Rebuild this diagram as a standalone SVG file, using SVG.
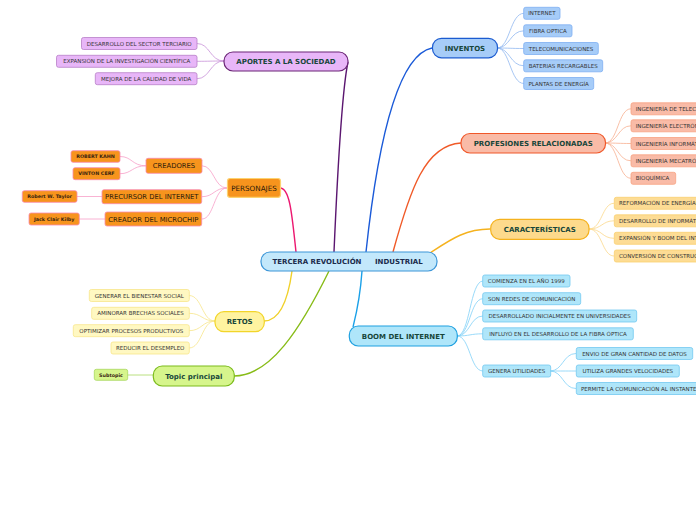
<svg xmlns="http://www.w3.org/2000/svg" width="696" height="520" viewBox="0 0 696 520">
<style>
text{font-family:"DejaVu Sans",Verdana,sans-serif}
.s{font-size:5.5px;fill:#333}
.sm{font-size:5.5px;fill:#333;text-anchor:middle}
.m{font-size:7px;font-weight:bold;fill:#17463a;text-anchor:middle}
.mid{font-size:6.8px;fill:#2a1a0a;text-anchor:middle}
.nm{font-size:4.8px;font-weight:bold;fill:#3a2410;text-anchor:middle}
.c path{fill:none}
.apM{fill:#e8b6f8;stroke:#6b2577;stroke-width:1.2}
.apC{fill:#e8b6f8;stroke:#b77fc8;stroke-width:0.8}
.inM{fill:#a6ccf8;stroke:#1b5bd0;stroke-width:1.2}
.inC{fill:#a6ccf8;stroke:#7eaef2;stroke-width:0.8}
.prM{fill:#f9bba7;stroke:#f0582a;stroke-width:1.2}
.prC{fill:#f9bba7;stroke:#f8a282;stroke-width:0.8}
.caM{fill:#fdda8c;stroke:#f5b21e;stroke-width:1.2}
.caC{fill:#fddc94;stroke:#fad070;stroke-width:0.8}
.peM{fill:#f7941d;stroke:#fcd270;stroke-width:1.2}
.peC{fill:#f7941d;stroke:#f98ab0;stroke-width:0.8}
.reM{fill:#fff3a0;stroke:#f2d52a;stroke-width:1.2}
.reC{fill:#fff8c2;stroke:#f8e68a;stroke-width:0.8}
.toM{fill:#d6f58c;stroke:#7cbc1c;stroke-width:1.2}
.toC{fill:#d6f58c;stroke:#a8d860;stroke-width:0.8}
.boM{fill:#afe6fa;stroke:#1ea0e0;stroke-width:1.2}
.boC{fill:#afe6fa;stroke:#72c8f0;stroke-width:0.8}
</style>

<g id="connectors" class="c">
  <path d="M334,252 C338,160 342,90 348,62" stroke="#5b1670" stroke-width="1.4"/>
  <path d="M366,252 C378,140 398,55 432,48" stroke="#1a5ad8" stroke-width="1.4"/>
  <path d="M393,252 C410,190 425,145 461,143" stroke="#f05a28" stroke-width="1.4"/>
  <path d="M430,253 C450,240 465,229 490,229" stroke="#f5b21e" stroke-width="1.4"/>
  <path d="M296,252 C292,215 290,188 280,188" stroke="#ec1870" stroke-width="1.4"/>
  <path d="M292,271 C288,300 280,321 264,321" stroke="#f0d028" stroke-width="1.4"/>
  <path d="M329,271 C300,330 270,376 234,376" stroke="#88bc18" stroke-width="1.4"/>
  <path d="M362,271 C360,300 356,315 353,327" stroke="#1aa0e8" stroke-width="1.4"/>

  <g stroke="#c890d8" stroke-width="0.8">
    <path d="M224,61 C210,61 210,43.5 197,43.5"/>
    <path d="M224,61 C210,61 210,61.3 197,61.3"/>
    <path d="M224,61 C210,61 210,78.7 197,78.7"/>
  </g>
  <g stroke="#90b8f0" stroke-width="0.8">
    <path d="M497,48 C510,48 510,13.3 524,13.3"/>
    <path d="M497,48 C510,48 510,30.8 524,30.8"/>
    <path d="M497,48 C510,48 510,48.5 524,48.5"/>
    <path d="M497,48 C510,48 510,65.8 524,65.8"/>
    <path d="M497,48 C510,48 510,83.5 524,83.5"/>
  </g>
  <g stroke="#f8b090" stroke-width="0.8">
    <path d="M605,143 C618,143 618,108.8 631,108.8"/>
    <path d="M605,143 C618,143 618,125.8 631,125.8"/>
    <path d="M605,143 C618,143 618,143.5 631,143.5"/>
    <path d="M605,143 C618,143 618,160.8 631,160.8"/>
    <path d="M605,143 C618,143 618,178.3 631,178.3"/>
  </g>
  <g stroke="#fbd88a" stroke-width="0.8">
    <path d="M589,229 C602,229 602,203.3 614,203.3"/>
    <path d="M589,229 C602,229 602,220.8 614,220.8"/>
    <path d="M589,229 C602,229 602,238.3 614,238.3"/>
    <path d="M589,229 C602,229 602,256 614,256"/>
  </g>
  <g stroke="#f8a0c8" stroke-width="0.8">
    <path d="M227,188 C214,188 214,165.8 202,165.8"/>
    <path d="M227,188 C214,188 214,196.7 202,196.7"/>
    <path d="M227,188 C214,188 214,219 202,219"/>
    <path d="M146,165.8 C132,165.8 132,156.5 120,156.5"/>
    <path d="M146,165.8 C132,165.8 132,173.7 120,173.7"/>
    <path d="M102,196.5 L77,196.5"/>
    <path d="M105,219 L79,219"/>
  </g>
  <g stroke="#f8e68a" stroke-width="0.8">
    <path d="M215,321 C202,321 202,295.5 189,295.5"/>
    <path d="M215,321 C202,321 202,313.3 189,313.3"/>
    <path d="M215,321 C202,321 202,330.7 189,330.7"/>
    <path d="M215,321 C202,321 202,348 189,348"/>
  </g>
  <g stroke="#a8d860" stroke-width="0.8">
    <path d="M153,375 L127,375"/>
  </g>
  <g stroke="#80d0f8" stroke-width="0.8">
    <path d="M457,336 C470,336 470,281 483,281"/>
    <path d="M457,336 C470,336 470,298.7 483,298.7"/>
    <path d="M457,336 C470,336 470,316 483,316"/>
    <path d="M457,336 C470,336 470,333.8 483,333.8"/>
    <path d="M457,336 C470,336 470,371 483,371"/>
    <path d="M550,371 C563,371 563,353.5 576,353.5"/>
    <path d="M550,371 C563,371 563,371 576,371"/>
    <path d="M550,371 C563,371 563,388.5 576,388.5"/>
  </g>
</g>

<g id="center">
  <rect x="261" y="252" width="176" height="19" rx="9" fill="#c3e8fb" stroke="#3c96d8" stroke-width="1.2"/>
  <text style="font-size:7px;font-weight:bold;fill:#1b2b4b" y="264"><tspan x="272.5">TERCERA REVOLUCIÓN</tspan><tspan x="375">INDUSTRIAL</tspan></text>
</g>

<g id="aportes">
  <rect class="apM" x="224" y="52" width="124" height="19" rx="9"/>
  <text class="m" x="286" y="64">APORTES A LA SOCIEDAD</text>
</g>
<g id="aportes-1"><rect class="apC" x="81.5" y="37.5" width="115.5" height="12" rx="2"/><text class="sm" x="139.2" y="45.5">DESARROLLO DEL SECTOR TERCIARIO</text></g>
<g id="aportes-2"><rect class="apC" x="56.5" y="55.3" width="140.5" height="12" rx="2"/><text class="sm" x="126.8" y="63.3">EXPANSIÓN DE LA INVESTIGACIÓN CIENTÍFICA</text></g>
<g id="aportes-3"><rect class="apC" x="95.3" y="72.7" width="101.7" height="12" rx="2"/><text class="sm" x="146.2" y="80.7">MEJORA DE LA CALIDAD DE VIDA</text></g>

<g id="inventos">
  <rect class="inM" x="432.5" y="38.3" width="65" height="19.5" rx="9"/>
  <text class="m" x="465" y="50.5">INVENTOS</text>
</g>
<g id="inv-1"><rect class="inC" x="523.7" y="7.3" width="36.3" height="12" rx="2"/><text class="sm" x="541.9" y="15.3">INTERNET</text></g>
<g id="inv-2"><rect class="inC" x="523.7" y="24.8" width="48.3" height="12" rx="2"/><text class="sm" x="547.9" y="32.8">FIBRA OPTICA</text></g>
<g id="inv-3"><rect class="inC" x="523.7" y="42.5" width="74.6" height="12" rx="2"/><text class="sm" x="561" y="50.5">TELECOMUNICACIONES</text></g>
<g id="inv-4"><rect class="inC" x="523.7" y="59.8" width="79" height="12" rx="2"/><text class="sm" x="563.2" y="67.8">BATERIAS RECARGABLES</text></g>
<g id="inv-5"><rect class="inC" x="523.7" y="77.5" width="70" height="12" rx="2"/><text class="sm" x="558.7" y="85.5">PLANTAS DE ENERGÍA</text></g>

<g id="profesiones">
  <rect class="prM" x="461" y="133.5" width="144.5" height="19.5" rx="9"/>
  <text class="m" x="533.2" y="145.7">PROFESIONES RELACIONADAS</text>
</g>
<g id="pro-1"><rect class="prC" x="631" y="102.8" width="120" height="12" rx="2"/><text class="s" x="635.7" y="110.8">INGENIERÍA DE TELECOMUNICACIONES</text></g>
<g id="pro-2"><rect class="prC" x="631" y="119.8" width="90" height="12" rx="2"/><text class="s" x="635.7" y="127.8">INGENIERÍA ELECTRÓNICA</text></g>
<g id="pro-3"><rect class="prC" x="631" y="137.5" width="90" height="12" rx="2"/><text class="s" x="635.7" y="145.5">INGENIERÍA INFORMÁTICA</text></g>
<g id="pro-4"><rect class="prC" x="631" y="154.8" width="90" height="12" rx="2"/><text class="s" x="635.7" y="162.8">INGENIERÍA MECATRÓNICA</text></g>
<g id="pro-5"><rect class="prC" x="631" y="172.3" width="44.7" height="12" rx="2"/><text class="s" x="635.7" y="180.3">BIOQUÍMICA</text></g>

<g id="caracteristicas">
  <rect class="caM" x="490.7" y="219.3" width="98.3" height="20" rx="9"/>
  <text class="m" x="539.8" y="231.8">CARACTERÍSTICAS</text>
</g>
<g id="car-1"><rect class="caC" x="614.3" y="197.3" width="100" height="12" rx="2"/><text class="s" x="619" y="205.3">REFORMACIÓN DE ENERGÍAS</text></g>
<g id="car-2"><rect class="caC" x="614.3" y="214.8" width="100" height="12" rx="2"/><text class="s" x="619" y="222.8">DESARROLLO DE INFORMÁTICA</text></g>
<g id="car-3"><rect class="caC" x="614.3" y="232.3" width="110" height="12" rx="2"/><text class="s" x="619" y="240.3">EXPANSIÓN Y BOOM DEL INTERNET</text></g>
<g id="car-4"><rect class="caC" x="614.3" y="250" width="110" height="12" rx="2"/><text class="s" x="619" y="258">CONVERSIÓN DE CONSTRUCCIÓN</text></g>

<g id="personajes">
  <rect class="peM" x="227.5" y="178.5" width="53" height="18.8" rx="2.5"/>
  <text style="font-size:7.2px;fill:#2a1a0a;text-anchor:middle" x="254" y="190.5">PERSONAJES</text>
</g>
<g id="creadores"><rect class="peC" x="146" y="158.3" width="56" height="15" rx="2"/><text class="mid" x="174" y="168.3">CREADORES</text></g>
<g id="kahn"><rect class="peC" x="71" y="150.7" width="49" height="11.6" rx="2"/><text class="nm" x="95.5" y="158.2">ROBERT KAHN</text></g>
<g id="cerf"><rect class="peC" x="73" y="167.7" width="47" height="12" rx="2"/><text class="nm" x="96.5" y="175.4">VINTON CERF</text></g>
<g id="precursor"><rect class="peC" x="102" y="189.7" width="99.7" height="14" rx="2"/><text class="mid" x="151.8" y="199.2">PRECURSOR DEL INTERNET</text></g>
<g id="taylor"><rect class="peC" x="22.3" y="190.7" width="54.7" height="11.6" rx="2"/><text class="nm" x="49.6" y="198.2">Robert W. Taylor</text></g>
<g id="microchip"><rect class="peC" x="105" y="212" width="96.7" height="14" rx="2"/><text class="mid" x="153.3" y="221.5">CREADOR DEL MICROCHIP</text></g>
<g id="kilby"><rect class="peC" x="29" y="213" width="50.3" height="12" rx="2"/><text class="nm" x="54.2" y="220.7">Jack Clair Kilby</text></g>

<g id="retos">
  <rect class="reM" x="215" y="311.7" width="49.3" height="20" rx="9"/>
  <text class="m" x="239.7" y="324.2">RETOS</text>
</g>
<g id="ret-1"><rect class="reC" x="89.3" y="289.5" width="100" height="12" rx="2"/><text class="sm" x="139.3" y="297.5">GENERAR EL BIENESTAR SOCIAL</text></g>
<g id="ret-2"><rect class="reC" x="91.7" y="307.3" width="97.6" height="12" rx="2"/><text class="sm" x="140.5" y="315.3">AMINORAR BRECHAS SOCIALES</text></g>
<g id="ret-3"><rect class="reC" x="73.3" y="324.7" width="116" height="12" rx="2"/><text class="sm" x="131.3" y="332.7">OPTIMIZAR PROCESOS PRODUCTIVOS</text></g>
<g id="ret-4"><rect class="reC" x="111" y="342" width="78.3" height="12" rx="2"/><text class="sm" x="150.2" y="350">REDUCIR EL DESEMPLEO</text></g>

<g id="topic">
  <rect class="toM" x="153.3" y="366" width="81" height="20" rx="9"/>
  <text class="m" x="193.8" y="378.5">Topic principal</text>
</g>
<g id="subtopic"><rect class="toC" x="94.3" y="369.3" width="33.4" height="11" rx="2"/><text class="nm" x="111" y="376.6">Subtopic</text></g>

<g id="boom">
  <rect class="boM" x="349.3" y="326" width="108" height="20" rx="9"/>
  <text class="m" x="403.3" y="338.5">BOOM DEL INTERNET</text>
</g>
<g id="boo-1"><rect class="boC" x="482.7" y="275" width="87.3" height="12" rx="2"/><text class="sm" x="526.3" y="283">COMIENZA EN EL AÑO 1999</text></g>
<g id="boo-2"><rect class="boC" x="482.7" y="292.7" width="98" height="12" rx="2"/><text class="sm" x="531.7" y="300.7">SON REDES DE COMUNICACIÓN</text></g>
<g id="boo-3"><rect class="boC" x="482.7" y="310" width="154" height="12" rx="2"/><text class="sm" x="559.7" y="318">DESARROLLADO INICIALMENTE EN UNIVERSIDADES</text></g>
<g id="boo-4"><rect class="boC" x="482.7" y="327.8" width="150.6" height="12" rx="2"/><text class="sm" x="558" y="335.8">INFLUYÓ EN EL DESARROLLO DE LA FIBRA ÓPTICA</text></g>
<g id="boo-5"><rect class="boC" x="482.7" y="365" width="68" height="12" rx="2"/><text class="sm" x="516.7" y="373">GENERA UTILIDADES</text></g>
<g id="boo-6"><rect class="boC" x="576.3" y="347.5" width="116.4" height="12" rx="2"/><text class="sm" x="634.5" y="355.5">ENVIO DE GRAN CANTIDAD DE DATOS</text></g>
<g id="boo-7"><rect class="boC" x="576.3" y="365" width="103" height="12" rx="2"/><text class="sm" x="627.8" y="373">UTILIZA GRANDES VELOCIDADES</text></g>
<g id="boo-8"><rect class="boC" x="576.3" y="382.5" width="135" height="12" rx="2"/><text class="s" x="581" y="390.5">PERMITE LA COMUNICACIÓN AL INSTANTE</text></g>
</svg>
